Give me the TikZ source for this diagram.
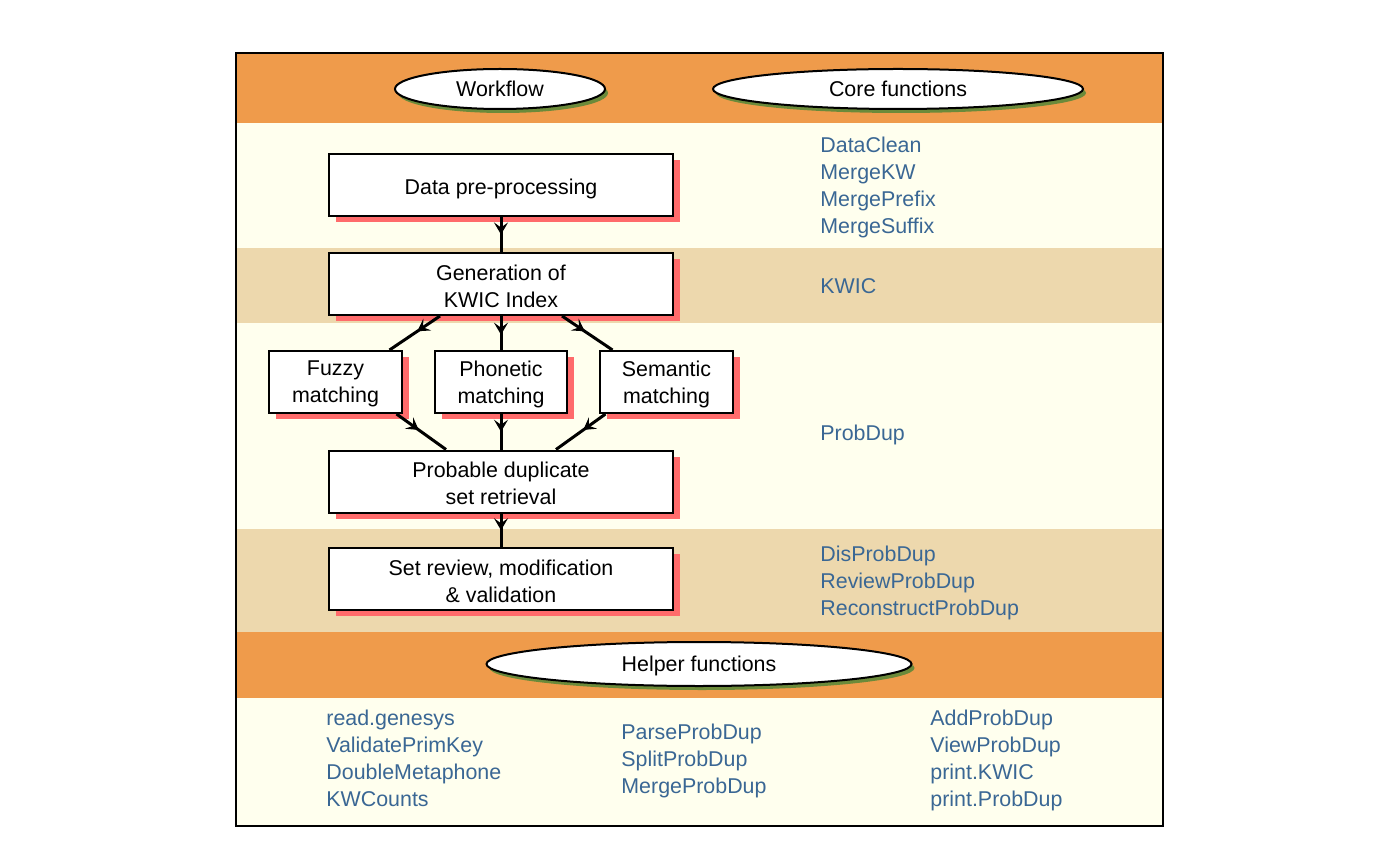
\documentclass[tikz,border=0pt]{standalone}
\usepackage{fontspec}
\setmainfont{Liberation Sans}
\usetikzlibrary{shapes.geometric,arrows.meta,decorations.markings,calc}
\definecolor{bandorange}{HTML}{EF9B4B}
\definecolor{bandtan}{HTML}{EDD8AD}
\definecolor{bandcream}{HTML}{FFFFEE}
\definecolor{fnblue}{HTML}{3A6794}
\definecolor{boxshadow}{HTML}{FF6B6B}
\definecolor{ellshadow}{HTML}{6B8A3A}
\tikzset{
  txt/.style={font=\fontsize{10.7}{13.5}\selectfont},
  stepbox/.style={draw=black,line width=1pt,fill=white,inner sep=0pt,minimum height=31pt},
  boxtext/.style={txt,align=center,inner sep=0pt,yshift=-1pt},
  boxshade/.style={fill=boxshadow,draw=none},
  headell/.style={txt,ellipse,draw=black,line width=1pt,fill=white,inner sep=0pt,minimum height=20pt,text depth=0pt},
  ellshade/.style={ellipse,fill=ellshadow,draw=none,inner sep=0pt,minimum height=20pt},
  fn/.style={txt,text=fnblue,anchor=base west,inner sep=0pt},
  flow/.style={line width=1.5pt,postaction={decorate},decoration={markings,
    mark=at position #1 with {\arrow{Stealth[length=6pt,width=7pt,inset=2.5pt]}}}},
}
\begin{document}
\begin{tikzpicture}[x=0.5pt,y=-0.5pt]
\useasboundingbox (0,0) rectangle (1400,865);
% bands
\fill[bandorange] (236,52) rectangle (1163,123);
\fill[bandcream] (236,123) rectangle (1163,248);
\fill[bandtan] (236,248) rectangle (1163,323);
\fill[bandcream] (236,323) rectangle (1163,529);
\fill[bandtan] (236,529) rectangle (1163,632);
\fill[bandorange] (236,632) rectangle (1163,698);
\fill[bandcream] (236,698) rectangle (1163,826);
\draw[line width=1pt] (236,53) rectangle (1163,826);

% header ellipses (shadows first)
\node[ellshade,minimum width=105pt] at (503,93) {};
\node[headell,minimum width=105pt] (wf) at (500,89) {Workflow};
\node[ellshade,minimum width=185pt] at (901,93) {};
\node[headell,minimum width=185pt] (cf) at (898,89) {Core functions};
\node[ellshade,minimum width=212.5pt,minimum height=22pt] at (702,668) {};
\node[headell,minimum width=212.5pt,minimum height=22pt] (hf) at (699,664) {Helper functions};

% box shadows
\foreach \x/\y/\w in {508/191/172, 508/290/172, 342.5/388/66.5, 508/388/66, 673.5/388/66.5, 508/488/172, 508/585/172}
  \fill[boxshade] (\x-\w,\y-15.5*2) rectangle (\x+\w,\y+15.5*2);

% boxes
\node[stepbox,minimum width=172pt] (dp) at (501,185) {};
\node[stepbox,minimum width=172pt] (gen) at (501,284) {};
\node[stepbox,minimum width=66.5pt] (fz) at (335.5,382) {};
\node[stepbox,minimum width=66pt] (ph) at (501,382) {};
\node[stepbox,minimum width=66.5pt] (sm) at (666.5,382) {};
\node[stepbox,minimum width=172pt] (pd) at (501,481.5) {};
\node[stepbox,minimum width=172pt] (sr) at (501,579) {};
% box texts
\node[boxtext,text depth=0pt] (dpt) at (dp.center) {Data pre-processing};
\node[boxtext] (gent) at (gen.center) {Generation of\\KWIC Index};
\node[boxtext] (fzt) at (fz.center) {Fuzzy\\matching};
\node[boxtext] (pht) at (ph.center) {Phonetic\\matching};
\node[boxtext] (smt) at (sm.center) {Semantic\\matching};
\node[boxtext] (pdt) at (pd.center) {Probable duplicate\\set retrieval};
\node[boxtext] (srt) at (sr.center) {Set review, modification\\\& validation};

% connectors
\draw[flow=0.5] (dp.south) -- (gen.north);
\draw[flow=0.45] ($(gen.south)+(-61,0)$) -- ($(fz.north)+(54,0)$);
\draw[flow=0.55] (gen.south) -- (ph.north);
\draw[flow=0.45] ($(gen.south)+(61,0)$) -- ($(sm.north)+(-54,0)$);
\draw[flow=0.45] ($(fz.south)+(61,0)$) -- ($(pd.north)+(-55,0)$);
\draw[flow=0.5] (ph.south) -- (pd.north);
\draw[flow=0.45] ($(sm.south)+(-61,0)$) -- ($(pd.north)+(55,0)$);
\draw[flow=0.5] (pd.south) -- (sr.north);

% core functions
\node[fn] (f1) at (820,152.6) {DataClean};
\node[fn] (f2) at (820,179.6) {MergeKW};
\node[fn] (f3) at (820,206.6) {MergePrefix};
\node[fn] (f4) at (820,233.6) {MergeSuffix};
\node[fn] (f5) at (820,293.6) {KWIC};
\node[fn] (f6) at (820,440.6) {ProbDup};
\node[fn] (f7) at (820,561.6) {DisProbDup};
\node[fn] (f8) at (820,588.6) {ReviewProbDup};
\node[fn] (f9) at (820,615.6) {ReconstructProbDup};

% helper functions
\node[fn] (h1) at (326,725.6) {read.genesys};
\node[fn] (h2) at (326,752.6) {ValidatePrimKey};
\node[fn] (h3) at (326,779.6) {DoubleMetaphone};
\node[fn] (h4) at (326,806.6) {KWCounts};
\node[fn] (h5) at (621,739.6) {ParseProbDup};
\node[fn] (h6) at (621,766.6) {SplitProbDup};
\node[fn] (h7) at (621,793.6) {MergeProbDup};
\node[fn] (h8) at (930,725.6) {AddProbDup};
\node[fn] (h9) at (930,752.6) {ViewProbDup};
\node[fn] (h10) at (930,779.6) {print.KWIC};
\node[fn] (h11) at (930,806.6) {print.ProbDup};
\end{tikzpicture}
\end{document}
